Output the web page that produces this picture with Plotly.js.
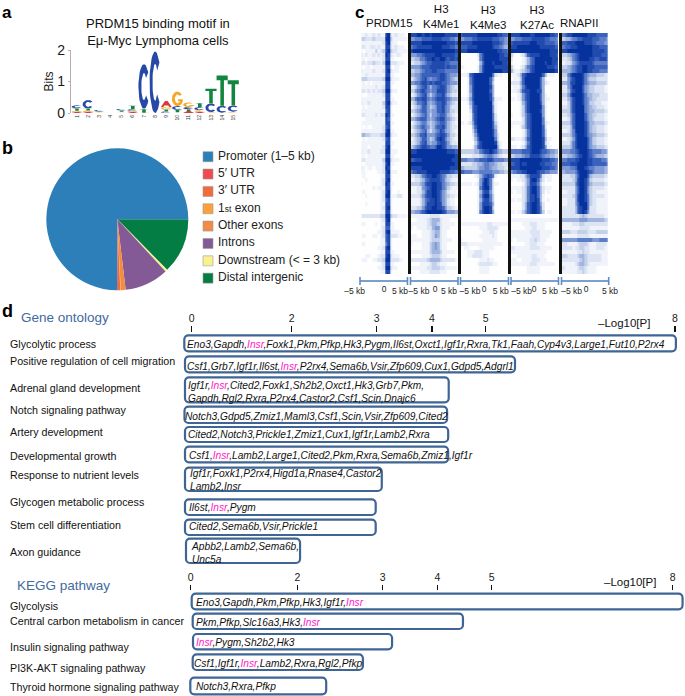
<!DOCTYPE html>
<html><head><meta charset="utf-8">
<script src="https://cdn.plot.ly/plotly-3.0.1.min.js"></script>
<style>html,body{margin:0;padding:0;background:#fff}</style></head>
<body><div id="chart" style="width:685px;height:696px"></div>
<script>
const W=685,H=696,FONT='"Liberation Sans",Arial,sans-serif';
// ---- panel a: sequence logo (bits per base at each position)
const motifPositions=[1,2,3,4,5,6,7,8,9,10,11,12,13,14,15];
const bitsA=[0.03,0.03,0.01,0,0.02,0.03,0,0,0.20,0.02,0.06,0.03,0.01,0,0.01];
const bitsC=[0.10,0.27,0.05,0,0.05,0.05,1.42,1.95,0.05,0.12,0.07,0.10,0.27,0.22,0.20];
const bitsG=[0.04,0.05,0.02,0,0.02,0.04,0.01,0,0.07,0.46,0.14,0.06,0.02,0.01,0.03];
const bitsT=[0.08,0.06,0.02,0,0.04,0.12,0.12,0,0.06,0.08,0.06,0.13,0.47,0.96,0.80];
const baseColors={A:'#d9383c',C:'#2649a6',G:'#f6a623',T:'#12863f'};
// ---- panel b: annotation shares (%)
const pieLabels=['Promoter (1–5 kb)','5′ UTR','3′ UTR','1<span style="font-size:8.5px">st</span> exon','Other exons','Introns','Downstream (< = 3 kb)','Distal intergenic'];
const pieValues=[74.9,0.2,0.5,0.1,1.1,10.0,0.5,12.6];
const pieColors=['#2c7fb8','#ef4a50','#f26b3a','#fca03c','#f08c43','#835a96','#f8f18f','#047d45'];
// ---- panel c: signal level (0-9) rows top to bottom, columns -5 kb to +5 kb
const heatPRDM15=["11211212118921211100","33222322229931111110","11111111128921100000","22112212118821211100","10111131238932211110","21211212129821121000","11011111128811000000","22122322139922211100","10110111118810110000","21111211128921110000","11211111118811000000","33322222239921110000","11010111118811000000","11111121128810000000","22121212239921100000","10011111128810000000","11111111118811000000","21121111138921100000","01011111128810000000","11111111117810000000","22111121229811000000","00111111118710000000","11111111118811000000","10100111127810000000","11111111128911000000","44332222339921100000","01011111127810000000","11111111118811000000","11101111128910000000","21121111229911100000","11011111118811000000","22111111139921110000","10111111128911000000","21011011129810000000","11000001128911100000","01000000118810000000","00100000128910000000","10000000129811000000","00000101118810000000","01000000128910010000","00100000129911122000","00000000127810000000","00100000118810000000","00000000128910000000","00000000118810000000","22222222339932211110","00000000128910000000","11000010118811000000","00000000127711000000","00000001128911110000","01000110127822211000","00000000117810000000","11000000116810000000","00000001128910000000","00000000118811000000","00110001228921110000","11100112239922221000","00000000128811000000","00000001129921100000","00000000118810000000"];
const heatK4Me1=["88899899899999888887","55666777788887776655","88888999999999988878","67788888899998887766","89999999999999999988","55566788889998888877","33446678898899878878","22334567788888776666","55556777888888787776","33445677788777666666","44556777777788765554","23456786566788765433","55667887878887765554","22356786466788754322","33567876566888754332","12356785356778643221","44677886567888765443","23466785456778754322","12345775345778653222","33456775455778653322","12345675355677643211","44567775456788654321","12345664345677643211","23456765346778643221","12345674245687543211","33457785556788753321","12345775346898643211","22346785455788753221","34567887667998755443","88899999999999988877","99999999999999999988","77888999999999999888","99999999999999999988","88888999999999998888","67788889999988887766","22334678899876533222","11223467888876432111","33334578899886543322","11122567899886532111","11122468899875421110","22223578899875432211","11112467889875421100","11112468889885421100","22233578899887533211","44556789999998755544","11111111222211111111","00011112344421110000","11111112344321111100","10011112245521110000","00000111234421100000","11100111235421100000","11111111233321111000","10000111345421100000","00000111345421100000","11111111344431111100","00000111233321100000","22222223444432222210","00001111233211100000","11111112233322111110","00001111222211100000"];
const heatK4Me3=["78888889999999988776","55666778888887776654","88888999999998887655","77788889999998776544","88899999999999988776","00000002689999998877","00000001689999998888","00000000479998999887","11000001589999888888","00000001589999999888","11127899999996211000","00016899999974000000","00016899999973000000","00015899999984000000","00015899999974000000","00014899999984000000","11125899999985111000","00014799999994100000","00003789999995100000","00002789999995100000","00001689999996200000","00001689999996200000","11012589999997310000","00000479999997410000","00000369999998510000","00000258999998520000","00000147999999620000","00000036899999831000","00000147899999941000","33333344678898754333","11111222345665432111","66655566777887666655","22222334456655433222","44333334556654433321","77666555666665554433","00000012467876100000","00000001579862000000","11111012589862110000","00000001689962000000","00000001478852000000","00000001589963000000","00000001478863000000","00000001588874000000","00000001589983000000","00000001689984000000","00000000000000000000","00000000000000000000","11111111111221111111","00000000111222210000","00000000011122100000","00000000111112100000","10000000011111100000","22211111111111111000","00110000111111000000","00011122211100000000","00011222211100000000","00000000111211000000","00000001222221100000","00000000111100000000","00000000111100000000"];
const heatK27Ac=["88889999889999998877","55666777788888776665","78888888999888777766","88899999999988888877","99999999999999998888","31001247888899998887","20000124679999999888","10000124679999899887","31001246789999988877","42112345789999999988","11124789999997411100","01113799999974100000","22224799999974210000","01113689999974000000","11124788999884000000","00012578999974100000","11012578999974110000","00001468999984100000","00001368999995100000","00001368999985100000","10001357899995100000","00000257899996100000","11111257899996210000","10001357899997200000","00000136899997300000","00000136899997300000","22111247899998411000","00000136899998310000","11101247899998511000","66666777899987765544","33444566888876554433","88889999999998887766","77889889999988777665","88889999999998887765","56677889999877665554","11112246888862111000","10011235899742011000","00000135888631000000","11111236899742111000","10011236899742010000","00000236889741000000","11011236889841010000","00000247899852000000","00000247899862000000","11011357899863011000","00000000000000000000","11111111111111111111","00000111222111000000","00000011122111000000","11111111222211111000","11111111122211110000","10011111223211100000","00000011222111000000","22111111222211111000","11111111111111100000","00011111122111000000","11100111122211100000","11111111222111111100","00000001111100000000","00000001111100000000"];
const heatRNAPII=["56788999999888877777","33445667788887776665","77788899998887766655","66778889999998887777","88899999999998888877","33345678999998888777","22234678999988778887","11223567888887666666","33345678899888777777","44445678899887776666","33368999986544433322","22257899986433322222","44458899986544433332","22257999975433222211","22247899975433222211","33358999986443332222","22246899986543322222","11136899986533222111","22236899996543322211","33336899996544333322","22235799997543322211","11125799997543222211","33335799998644333322","22224799998643322211","11124699998643322211","33334689998654433322","11123589999753322211","22224689999753322211","33334689999754433322","55556678999876666554","33344567899876544433","66677788999887777665","77778889999887777776","55556679998766555544","44555568999876555544","32223357999743333322","22222358998632222211","33333368998643333322","22222257998532222211","11122257998532211111","22222358998632222211","11122258998632211111","11122257999632211111","22222247899622211111","22222247898522211111","22222222343222222211","44444444555444444433","21111222332222222222","11111111222211111111","33332223333222233333","11111112222211111111","55555556666665556666","22211112333211122221","22222122332211122211","11111112232211111111","33322223443222222111","22222222343222222111","11111123443211111111","22111112332111100000","11111112232111100000"];
const heatNames=['PRDM15','K4Me1','K4Me3','K27Ac','RNAPII'];
const heatLabels=[['PRDM15',389,23],['H3<br>K4Me1',440.7,16.5],['H3<br>K4Me3',488,17],['H3<br>K27Ac',536.7,17],['RNAPII',579,23]];
const heatRows=[heatPRDM15,heatK4Me1,heatK4Me3,heatK27Ac,heatRNAPII];
const kbColumns=[-5,-4.47,-3.95,-3.42,-2.89,-2.37,-1.84,-1.32,-0.79,-0.26,0.26,0.79,1.32,1.84,2.37,2.89,3.42,3.95,4.47,5];
const rulerLabels=['–5 kb','0','5 kb','–5 kb','0','5 kb','–5 kb','0','5 kb','–5 kb','0','5 kb','–5 kb','0','5 kb'];
// ---- panel d: enrichment
const axisLabels=[0,2,3,4,5,8];
const goTerms=['Glycolytic process','Positive regulation of cell migration','Adrenal gland development','Notch signaling pathway','Artery development','Developmental growth','Response to nutrient levels','Glycogen metabolic process','Stem cell differentiation','Axon guidance'];
const goLog10P=[8.03,5.48,4.33,4.30,4.32,4.32,3.11,3.00,3.00,2.11];
const I='<span style="color:#ff19c4">Insr</span>';
const goGenes=[
 `Eno3,Gapdh,${I},Foxk1,Pkm,Pfkp,Hk3,Pygm,Il6st,Oxct1,Igf1r,Rxra,Tk1,Faah,Cyp4v3,Large1,Fut10,P2rx4`,
 `Csf1,Grb7,Igf1r,Il6st,${I},P2rx4,Sema6b,Vsir,Zfp609,Cux1,Gdpd5,Adgrl1`,
 `Igf1r,${I},Cited2,Foxk1,Sh2b2,Oxct1,Hk3,Grb7,Pkm,<br>Gapdh,Rgl2,Rxra,P2rx4,Castor2,Csf1,Scin,Dnajc6`,
 `Notch3,Gdpd5,Zmiz1,Maml3,Csf1,Scin,Vsir,Zfp609,Cited2`,
 `Cited2,Notch3,Prickle1,Zmiz1,Cux1,Igf1r,Lamb2,Rxra`,
 `Csf1,${I},Lamb2,Large1,Cited2,Pkm,Rxra,Sema6b,Zmiz1,Igf1r`,
 `Igf1r,Foxk1,P2rx4,Higd1a,Rnase4,Castor2<br>Lamb2,Insr`,
 `Il6st,${I},Pygm`,
 `Cited2,Sema6b,Vsir,Prickle1`,
 `Apbb2,Lamb2,Sema6b,<br>Unc5a`];
const keggTerms=['Glycolysis','Central carbon metabolism in cancer','Insulin signaling pathway','PI3K-AKT signaling pathway','Thyroid hormone signaling pathway'];
const keggLog10P=[8.18,4.49,3.19,2.78,2.35];
const keggGenes=[
 `Eno3,Gapdh,Pkm,Pfkp,Hk3,Igf1r,${I}`,
 `Pkm,Pfkp,Slc16a3,Hk3,${I}`,
 `${I},Pygm,Sh2b2,Hk3`,
 `Csf1,Igf1r,${I},Lamb2,Rxra,Rgl2,Pfkp`,
 `Notch3,Rxra,Pfkp`];
// ---- layout helpers (page pixels)
const goTickPos=[191.7,291.7,376.7,432,485.7,675];
const keggTickPos=[190.7,297.3,382.7,437.3,491.7,672.7];
const goRowTop=[334.3,355.3,376.3,405.7,426,445.7,466.7,498.3,518.7,537.7];
const goRowBot=[352.3,373.3,403.3,424,443,463.3,492,516,536,564];
const goBaseX=[183.3,184,184,183.5,184,184,184,184,184,185];
const goLabelY=[343.7,361.3,388.3,410.3,432.3,456,475.3,502.3,525,552];
const goTextX=[187,187,188.3,185,188.3,189,189.7,189,189.3,191.3];
const goTextY=[344.7,366,392,416.4,434.7,455,480.3,507.4,526.4,552.5];
const keggRowTop=[592.7,612.7,633,653.3,676.7];
const keggRowBot=[610.3,630,650.3,671,695.3];
const keggBaseX=[190.7,191.7,192,191.7,189.3];
const keggLabelY=[606,621.3,647,668,686.7];
const keggTextX=[196,196,195.7,194.3,196];
const keggTextY=[602.7,622.7,642.7,663.4,686.7];
const rulerLabelX=[354.7,384,400,419,435,449,470,484,500.7,521.7,534,550,571.7,586,610];
const rulerLabelY=[292,290,292,292,290,292,292,290,292,292,290,292,292,290,292];
const rulerEdges=[360,407.5,410.5,458,460.5,508.5,511,558.5,561.5,608.7];
const px=x=>x/W, py=y=>1-y/H;
const dx=(a,b)=>[px(a),px(b)], dy=(t,b)=>[py(b),py(t)];
// piecewise position on a -log10P scale that is not uniform in the source figure
function toPos(v,labels,pos){for(let i=1;i<labels.length;i++){if(v<=labels[i]||i===labels.length-1){return pos[i-1]+(v-labels[i-1])*(pos[i]-pos[i-1])/(labels[i]-labels[i-1]);}}}

const traces=[];
// logo glyphs in a unit box
function arc(a0,a1,rx,ry,n){const p=[];for(let i=0;i<=n;i++){const a=(a0+(a1-a0)*i/n)*Math.PI/180;p.push([.5+rx*Math.cos(a),.5+ry*Math.sin(a)]);}return p;}
const glyphs={
 A:[[0,0],[.22,0],[.32,.3],[.68,.3],[.78,0],[1,0],[.62,1],[.38,1]],
 T:[[.34,0],[.66,0],[.66,.84],[1,.84],[1,1],[0,1],[0,.84],[.34,.84]],
 C:[...arc(40,320,.5,.5,28),...arc(320,40,.24,.3,28)],
 G:[...arc(40,345,.5,.5,28),[.98,.47],[.55,.47],[.55,.33],[.74,.33],...arc(310,40,.24,.3,24)]
};
const seriesBits={A:bitsA,C:bitsC,G:bitsG,T:bitsT};
const letterXY={A:{x:[],y:[]},C:{x:[],y:[]},G:{x:[],y:[]},T:{x:[],y:[]}};
motifPositions.forEach((p,i)=>{
  const stack=['A','C','G','T'].map(b=>[b,seriesBits[b][i]]).filter(d=>d[1]>0).sort((a,b)=>a[1]-b[1]);
  let base=0;
  stack.forEach(([b,h])=>{
    glyphs[b].forEach(([gx,gy])=>{letterXY[b].x.push(p-.5+gx);letterXY[b].y.push(base+gy*h);});
    letterXY[b].x.push(glyphs[b][0][0]+p-.5);letterXY[b].y.push(base+glyphs[b][0][1]*h);
    letterXY[b].x.push(null);letterXY[b].y.push(null);
    base+=h;
  });
});
Object.keys(letterXY).forEach(b=>traces.push({type:'scatter',mode:'lines',x:letterXY[b].x,y:letterXY[b].y,xaxis:'x',yaxis:'y',fill:'toself',fillcolor:baseColors[b],line:{width:0,color:baseColors[b]},hoverinfo:'skip',showlegend:false,name:b}));
// pie: drawn clockwise from 3 o'clock, so the slice order runs backwards
traces.push({type:'pie',labels:pieLabels.slice().reverse(),values:pieValues.slice().reverse(),sort:false,direction:'clockwise',rotation:90,textinfo:'none',hoverinfo:'skip',showlegend:false,marker:{colors:pieColors.slice().reverse(),line:{width:0}},domain:{x:dx(46.3,188.3),y:dy(148.3,290.3)}});
// pie key
traces.push({type:'scatter',mode:'markers',x:pieLabels.map(()=>8),y:pieLabels.map((d,i)=>i),xaxis:'x2',yaxis:'y2',marker:{symbol:'square',size:10,color:pieColors,line:{width:.6,color:'#9a9a9a'}},hoverinfo:'skip',showlegend:false});
traces.push({type:'scatter',mode:'text',x:pieLabels.map(()=>18),y:pieLabels.map((d,i)=>i),text:pieLabels,textposition:'middle right',textfont:{family:FONT,size:12,color:'#222'},xaxis:'x2',yaxis:'y2',hoverinfo:'skip',showlegend:false});
// heatmaps
const heatScale=[[0,'#fefefe'],[.111,'#f0f3fa'],[.222,'#dde4f3'],[.333,'#c3d0ea'],[.555,'#7f9ad4'],[.777,'#3a62bd'],[1,'#06329d']];
heatRows.forEach((rows,i)=>traces.push({type:'heatmap',name:heatNames[i],x:kbColumns,y:rows.map((r,j)=>j),z:rows.map(r=>r.split('').map(Number)),zmin:0,zmax:9,zsmooth:false,colorscale:heatScale,showscale:false,hoverinfo:'skip',xaxis:'x'+(3+i),yaxis:'y'+(3+i)}));
// ruler
{const xs=[],ys=[];
 for(let i=0;i<rulerEdges.length;i+=2){xs.push(rulerEdges[i],rulerEdges[i+1],null);ys.push(281,281,null);}
 traces.push({type:'scatter',mode:'lines',x:xs,y:ys,xaxis:'x8',yaxis:'y9',line:{color:'#7aa0d0',width:2},hoverinfo:'skip',showlegend:false});
 const tx=[],ty=[];
 rulerEdges.forEach(e=>{tx.push(e,e,null);ty.push(277,285,null);});
 traces.push({type:'scatter',mode:'lines',x:tx,y:ty,xaxis:'x8',yaxis:'y9',line:{color:'#5f8cc4',width:1.6},hoverinfo:'skip',showlegend:false});
 traces.push({type:'scatter',mode:'text',x:rulerLabelX,y:rulerLabelY,text:rulerLabels,textposition:'middle center',textfont:{family:FONT,size:8.5,color:'#222'},xaxis:'x8',yaxis:'y9',hoverinfo:'skip',showlegend:false});
}
// enrichment boxes
function boxTrace(vals,tops,bots,bases,labels,pos,xa){
  const base=bases.map(b=>b+1),ends=vals.map(v=>toPos(v,labels,pos)-1);
  return {type:'bar',orientation:'h',x:ends.map((e,i)=>e-base[i]),base:base,y:tops.map((t,i)=>(t+bots[i])/2),width:tops.map((t,i)=>bots[i]-t-2),xaxis:xa,yaxis:'y9',marker:{color:'#ffffff',cornerradius:4,line:{color:'#3e6594',width:2.2}},textposition:'none',hoverinfo:'skip',showlegend:false};
}
traces.push(boxTrace(goLog10P,goRowTop,goRowBot,goBaseX,axisLabels,goTickPos,'x9'));
traces.push(boxTrace(keggLog10P,keggRowTop,keggRowBot,keggBaseX,axisLabels,keggTickPos,'x10'));

const ann=[];
function T(text,x,y,size,o={}){ann.push(Object.assign({text,x:px(x-2),y:py(y),xref:'paper',yref:'paper',showarrow:false,xanchor:'left',yanchor:'middle',align:'left',font:{family:FONT,size,color:'#111'}},o));}
function TC(text,x,y,size,o={}){T(text,x+2,y,size,Object.assign({xanchor:'center',align:'center'},o));}
T('<b>a</b>',2,12.5,17,{font:{family:FONT,size:17,color:'#000'}});
T('<b>b</b>',2,148,18,{font:{family:FONT,size:18,color:'#000'}});
T('<b>c</b>',355,12.5,17,{font:{family:FONT,size:17,color:'#000'}});
T('<b>d</b>',2,311,18,{font:{family:FONT,size:18,color:'#000'}});
TC('PRDM15 binding motif in<br>Eμ-Myc Lymphoma cells',158,32,13);
heatLabels.forEach(l=>TC(l[0],l[1],l[2],11.5));
T('Gene ontology',21,317.7,13.5,{font:{family:FONT,size:13.5,color:'#3f6a9e'}});
T('KEGG pathway',16.5,585.3,13.5,{font:{family:FONT,size:13.5,color:'#3f6a9e'}});
TC('–Log10[P]',623.7,322.7,11.5);
TC('–Log10[P]',630,581.7,11.5);
goTerms.forEach((t,i)=>T(t,10,goLabelY[i],10.7));
keggTerms.forEach((t,i)=>T(t,10,keggLabelY[i],10.7));
goGenes.forEach((g,i)=>T('<i>'+g+'</i>',goTextX[i],goTextY[i],10.2));
keggGenes.forEach((g,i)=>T('<i>'+g+'</i>',keggTextX[i],keggTextY[i],10.2));

const hidden={visible:false,fixedrange:true};
const layout={width:W,height:H,margin:{l:0,r:0,t:0,b:0},paper_bgcolor:'#fff',plot_bgcolor:'rgba(0,0,0,0)',showlegend:false,barmode:'overlay',font:{family:FONT},annotations:ann,
 xaxis:{domain:dx(71.4,238.9),range:[.5,15.5],tickvals:motifPositions,ticktext:motifPositions.map(String),tickangle:-90,tickfont:{size:5,color:'#333',family:FONT},ticks:'',showgrid:false,zeroline:false,showline:false,anchor:'y',ticklen:0},
 yaxis:{domain:dy(50,113),range:[0,2],tickvals:[0,1,2],tickfont:{size:14,color:'#1a1a1a',family:FONT},ticks:'outside',ticklen:2,tickcolor:'#b8aeaa',showgrid:false,zeroline:false,showline:true,linecolor:'#b8aeaa',linewidth:1.5,anchor:'x',title:{text:'Bits',font:{size:12,color:'#1a1a1a',family:FONT},standoff:1}},
 xaxis2:Object.assign({domain:dx(200,340),range:[0,140],anchor:'y2'},hidden),
 yaxis2:Object.assign({domain:dy(149.76,285.1),range:[7.4,-.4],anchor:'x2'},hidden),
 xaxis8:Object.assign({domain:[0,1],range:[0,W],anchor:'y9'},hidden),
 yaxis9:Object.assign({domain:[0,1],range:[H,0],anchor:'x8'},hidden),
 xaxis9:{domain:dx(180,685),range:[180,685],anchor:'free',position:py(332),side:'top',tickvals:goTickPos,ticktext:axisLabels.map(String),ticks:'outside',ticklen:6,tickwidth:1.5,tickcolor:'#111',tickfont:{size:10.5,color:'#1a1a1a',family:FONT},showgrid:false,zeroline:false,showline:false},
 xaxis10:{domain:dx(180,685),range:[180,685],anchor:'free',position:py(590),side:'top',tickvals:keggTickPos,ticktext:axisLabels.map(String),ticks:'outside',ticklen:5,tickwidth:1.5,tickcolor:'#111',tickfont:{size:10.5,color:'#1a1a1a',family:FONT},showgrid:false,zeroline:false,showline:false}
};
const panels=[[361.5,408.3],[411,458],[460.5,508],[511,558],[561.5,607.7]];
panels.forEach((p,i)=>{
  layout['xaxis'+(3+i)]={domain:dx(p[0],p[1]),range:[-5,5],anchor:'y'+(3+i),visible:false};
  layout['yaxis'+(3+i)]={domain:dy(33,274),range:[59.5,-.5],anchor:'x'+(3+i),showgrid:false,zeroline:false,ticks:'',showticklabels:false,showline:i>0,linecolor:'#111',linewidth:3};
});
Plotly.newPlot('chart',traces,layout,{staticPlot:true,displayModeBar:false});
</script></body></html>
